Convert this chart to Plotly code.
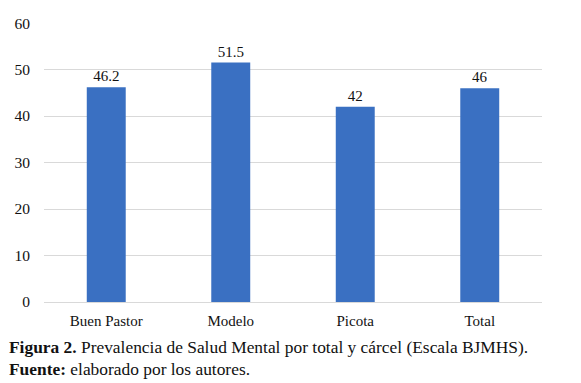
import plotly.graph_objects as go

categories = ["Buen Pastor", "Modelo", "Picota", "Total"]
values = [46.2, 51.5, 42, 46]
value_labels = ["46.2", "51.5", "42", "46"]
y_ticks = [0, 10, 20, 30, 40, 50, 60]

FONT = "'Liberation Serif', 'Times New Roman', Times, 'DejaVu Serif', serif"
BAR = "#3a70c2"

fig = go.Figure(go.Bar(
    x=categories, y=values, text=value_labels, textposition="outside",
    textfont=dict(family=FONT, size=15, color="#111"),
    marker=dict(color=BAR, line=dict(width=0)),
    cliponaxis=False,
))

fig.update_layout(
    width=581, height=383,
    margin=dict(l=44, r=39, t=23, b=81),
    paper_bgcolor="white", plot_bgcolor="white",
    bargap=0.687,
    showlegend=False,
    font=dict(family=FONT, size=15, color="#111"),
    xaxis=dict(showgrid=False, showline=True, linecolor="#d9d9d9", linewidth=1,
               ticks="", tickfont=dict(family=FONT, size=15, color="#111"),
               ticklabelstandoff=5),
    yaxis=dict(range=[0, 60.02], tickvals=y_ticks, showgrid=True, gridcolor="#d9d9d9",
               gridwidth=1, zeroline=False, showline=False, ticks="",
               tickfont=dict(family=FONT, size=15.5, color="#111"),
               ticklabelstandoff=13),
)

fig.add_annotation(xref="paper", yref="paper", x=-0.0743, y=-0.161, xanchor="left", yanchor="middle",
                   text="<b>Figura 2.</b> Prevalencia de Salud Mental por total y cárcel (Escala BJMHS).",
                   showarrow=False, font=dict(family=FONT, size=17.4, color="#111"))
fig.add_annotation(xref="paper", yref="paper", x=-0.0743, y=-0.240, xanchor="left", yanchor="middle",
                   text="<b>Fuente:</b> elaborado por los autores.",
                   showarrow=False, font=dict(family=FONT, size=17.4, color="#111"))

fig.write_html("out.html", config={"displayModeBar": False},
               post_script="document.body.style.margin='0';document.body.style.overflow='hidden';")
